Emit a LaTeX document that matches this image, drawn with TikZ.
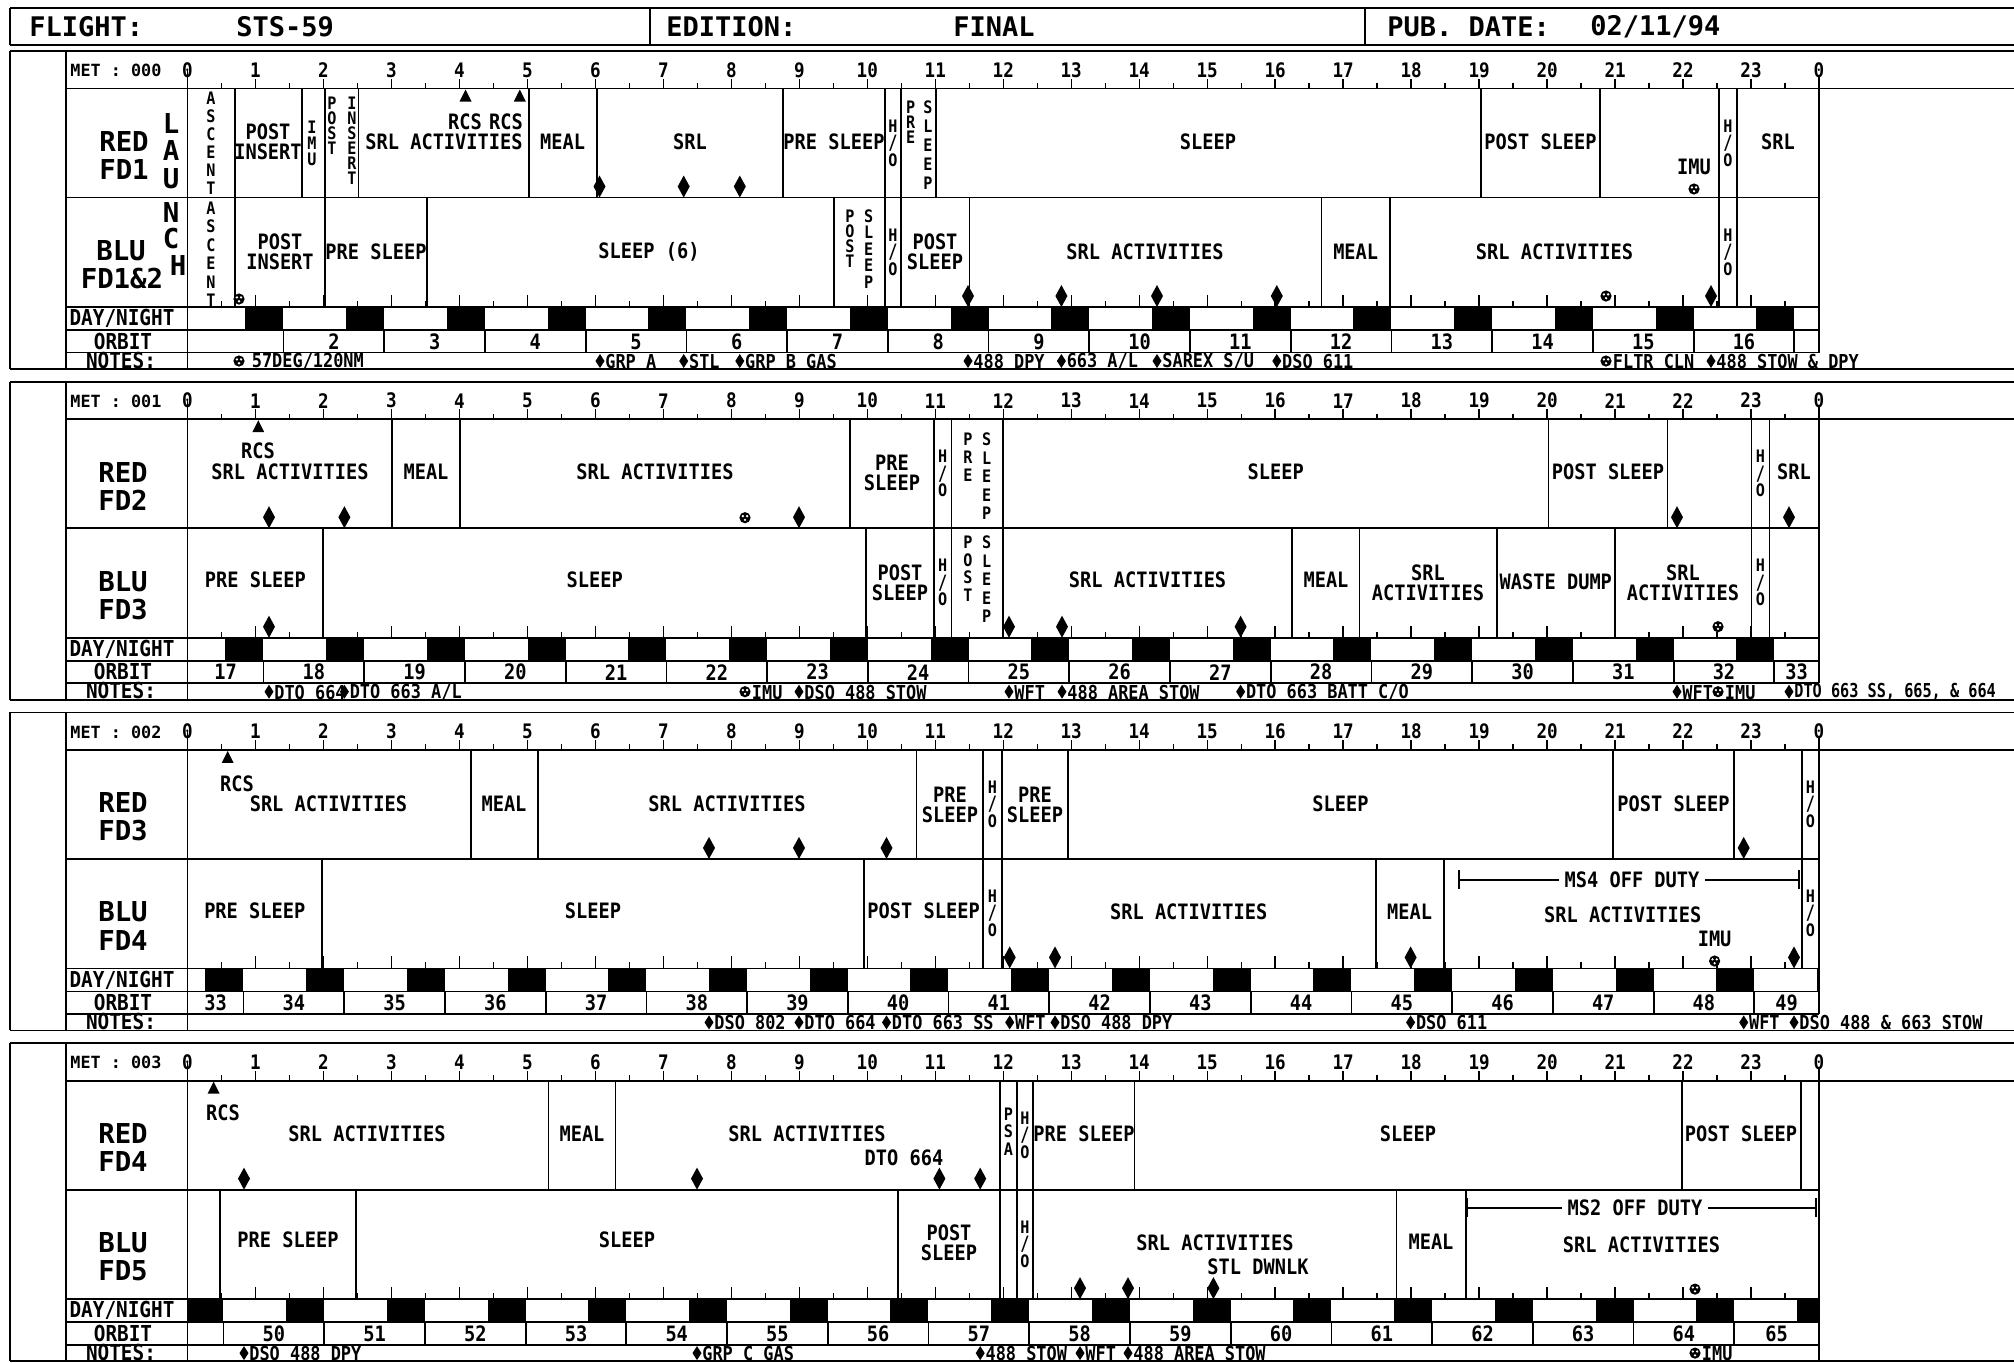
\documentclass[tikz,border=0pt]{standalone}
\usepackage{fontspec}
\usepackage{graphicx}
\newfontfamily\mono[FakeStretch=0.88]{DejaVu Sans Mono}
\newfontfamily\monow{DejaVu Sans Mono}
\tikzset{
  ln/.style={line width=0.9pt},
  tk/.style={line width=0.7pt},
  act/.style={font=\mono\bfseries\fontsize{10.6}{10}\selectfont, inner sep=0pt, align=center},
  vl/.style={font=\mono\bfseries\fontsize{8.6}{9}\selectfont, inner sep=0pt},
  hr/.style={font=\mono\bfseries\fontsize{10}{10}\selectfont, inner sep=0pt},
  big/.style={font=\monow\bfseries\fontsize{13.7}{14}\selectfont, inner sep=0pt},
  rowlbl/.style={font=\mono\bfseries\fontsize{11}{11}\selectfont, inner sep=0pt},
  note/.style={font=\mono\bfseries\fontsize{9.6}{10}\selectfont, inner sep=0pt, anchor=west},
  hdr/.style={font=\monow\bfseries\fontsize{13.5}{14}\selectfont, inner sep=0pt, anchor=west},
}
\newcommand\redv[1]{\foreach \x in {#1}{\draw[ln] (\x,37.5) -- (\x,146.5);}}
\newcommand\bluv[1]{\foreach \x in {#1}{\draw[ln] (\x,146.5) -- (\x,256);}}
\newcommand\dmd[2]{\fill (#1,#2) -- ++(-6,-11) -- ++(6,-11) -- ++(6,11) -- cycle;}
\newcommand\tri[1]{\fill (#1,38.5) -- (#1+6,50.5) -- (#1-6,50.5) -- cycle;}
\newcommand\mrk[2]{\fill (#1,#2) circle (5.6);
  \fill[white] (#1-2.1,#2-1.6) circle (1.3) (#1+2.1,#2-1.6) circle (1.3) (#1,#2+2.2) circle (1.3);}
\newcommand\ndia[2]{\fill (#1,303) -- (#1+4.5,310) -- (#1,317) -- (#1-4.5,310) -- cycle;
  \node[note] at (#1+5,310.5) {#2};}
\newcommand\nmrk[2]{\mrk{#1}{310}\node[note] at (#1+6.5,310.5) {#2};}
\newcommand\vtxt[4]{\foreach \c [count=\i from 0] in {#4}{\node[vl] at (#1,{#2+#3*\i}) {\c};}}
\newcommand\hovr[2]{\node[vl] at (#1,#2-17) {H};
  \node[vl] at (#1,#2) {\scalebox{1}[1.15]{/}};
  \node[vl] at (#1,#2+17) {O};}
\begin{document}
\begin{tikzpicture}[x=0.5pt,y=-0.5pt]
\useasboundingbox (0,0) rectangle (2014,1362);
\fill[white] (0,0) rectangle (2014,1362);
% header
\draw[ln] (10,8) -- (2014,8);
\draw[ln] (10,45) -- (2014,45);
\draw[ln] (10,8) -- (10,45);
\draw[ln] (650,8) -- (650,45);
\draw[ln] (1365,8) -- (1365,45);
\node[hdr] (hf) at (29,27) {FLIGHT:};
\node[hdr] (hs) at (236,27) {STS-59};
\node[hdr] (he) at (666,27) {EDITION:};
\node[hdr] (hfi) at (953,27) {FINAL};
\node[hdr] (hp) at (1387,27) {PUB. DATE:};
\node[hdr] (hd) at (1590,27) {02/11/94};
% common grid of each day
\foreach \d in {0,1,2,3}{
\begin{scope}[shift={(0,{51+330.7*\d})}]
  \draw[ln] (10,0) -- (2014,0);
  \draw[ln] (66,37.5) -- (2014,37.5);
  \draw[ln] (66,146.5) -- (1819,146.5);
  \draw[ln] (66,256) -- (1819,256);
  \draw[ln] (66,279) -- (1819,279);
  \draw[ln] (66,301.5) -- (1819,301.5);
  \draw[ln] (10,318) -- (2014,318);
  \draw[ln] (10,0) -- (10,318);
  \draw[ln] (66,0) -- (66,318);
  \draw[ln] (187.5,17.5) -- (187.5,318);
  \draw[ln] (1819,25) -- (1819,301.5);
  \foreach \k in {1,...,47}{
    \pgfmathsetmacro\xx{187.5+33.99*\k}
    \ifodd\k
      \draw[tk] (\xx,37.5) -- (\xx,32); \draw[tk] (\xx,256) -- (\xx,250);
    \else
      \draw[tk] (\xx,37.5) -- (\xx,27.5); \draw[tk] (\xx,256) -- (\xx,244);
    \fi
  }
  \foreach \h in {0,...,23}{\node[hr] at ({187.5+67.98*\h},19) {\h};}
  \node[hr] at (1819,19) {0};
  \node[font=\monow\bfseries\fontsize{8.4}{9}\selectfont, anchor=west, inner sep=0pt] at (70,19.5) {MET : 00\d};
  \node[rowlbl] at (122,267.5) {DAY/NIGHT};
  \node[rowlbl] at (123,290) {ORBIT};
  \node[rowlbl] at (121,309) {NOTES:};
  \begin{scope}
    \clip (187.5,256) rectangle (1819,279);
    \foreach \n in {0,...,64}{
      \fill ({187.5+67.98*(0.853+1.4816*\n-24*\d)},256) rectangle ++(38,23);
    }
  \end{scope}
  \foreach \n in {0,...,64}{
    \pgfmathsetmacro\obb{1.413+1.4816*\n-24*\d}
    \pgfmathsetmacro\olo{max(\obb-1.4816,0)}
    \pgfmathsetmacro\ohi{min(\obb,24)}
    \pgfmathsetmacro\oww{\ohi-\olo}
    \pgfmathtruncatemacro\onum{\n+1}
    \ifdim\oww pt>0.6pt \ifnum\n>0
      \node[act] at ({187.5+67.98*(\olo+\ohi)/2},290.5) {\onum};
    \fi\fi
    \ifdim\obb pt>0pt \ifdim\obb pt<24pt
      \draw[ln] ({187.5+67.98*\obb},279) -- ({187.5+67.98*\obb},301.5);
    \fi\fi
  }
\end{scope}
}
% ===== DAY 000 =====
\begin{scope}[shift={(0,51)}]
\redv{234.7,301.7,325.3,358.4,528.7,596.7,783,885,901,935.6,1481,1600,1719,1737}
\bluv{234.7,325.3,427.3,833.6,885,901,969.4,1321.4,1390,1719,1737}
\node[big] at (124,90.5) {RED}; \node[big] at (124,118.5) {FD1};
\node[big] at (121,199.5) {BLU}; \node[big] at (122,228) {FD1\&2};
\node[big] at (171,73) {L}; \node[big] at (171,100) {A}; \node[big] at (171,128) {U};
\node[big] at (171,162) {N}; \node[big] at (171,188) {C}; \node[big] at (178,215) {H};
\vtxt{211}{47}{18}{A,S,C,E,N,T}
\node[act] at (268,91) {POST\\INSERT};
\vtxt{312}{76}{16}{I,M,U}
\vtxt{332}{52}{15}{P,O,S,T}
\vtxt{352}{52}{15}{I,N,S,E,R,T}
\tri{465.6}\tri{519.8}
\node[act] at (465,70.5) {RCS}; \node[act] at (506,70.5) {RCS};
\node[act] at (444,91) {SRL ACTIVITIES};
\node[act] at (562.7,91) {MEAL};
\node[act] at (690,91) {SRL};
\dmd{599.5}{146.5}\dmd{683.7}{146.5}\dmd{739.8}{146.5}
\node[act] at (834,91) {PRE SLEEP};
\hovr{893}{92}
\vtxt{910.7}{56}{15}{P,R,E}
\vtxt{928}{56}{19}{S,L,E,E,P}
\node[act] at (1208,91) {SLEEP};
\node[act] at (1540.5,91) {POST SLEEP};
\node[act] at (1694,116) {IMU}; \mrk{1694}{138}
\hovr{1728}{92}
\node[act] at (1778,91) {SRL};
\vtxt{211}{157}{18.5}{A,S,C,E,N,T}
\node[act] at (280,201) {POST\\INSERT};
\mrk{239}{248}
\node[act] at (376,201) {PRE SLEEP};
\node[act] at (649,201) {SLEEP (6)};
\vtxt{850}{165}{15}{P,O,S,T}
\vtxt{868.6}{165}{16.5}{S,L,E,E,P}
\hovr{893}{201}
\node[act] at (935,201) {POST\\SLEEP};
\node[act] at (1145,201) {SRL ACTIVITIES};
\node[act] at (1355.7,201) {MEAL};
\node[act] at (1554.5,201) {SRL ACTIVITIES};
\mrk{1606}{245}
\dmd{968}{256}\dmd{1061.4}{256}\dmd{1157}{256}\dmd{1276.8}{256}\dmd{1711}{256}
\hovr{1728}{201}
\nmrk{239}{\hspace{3pt}57DEG/120NM}
\ndia{600}{GRP A}\ndia{683.7}{STL}\ndia{739.8}{GRP B GAS}
\ndia{968}{488 DPY}\ndia{1061.4}{663 A/L}\ndia{1157}{SAREX S/U}\ndia{1276.8}{DSO 611}
\nmrk{1606}{FLTR CLN}\ndia{1711}{488 STOW \& DPY}
\end{scope}
% ===== DAY 001 =====
\begin{scope}[shift={(0,381.7)}]
\redv{392.2,459.8,850,933.7,951.5,1003,1548.4,1667.4,1751.4,1769.5}
\bluv{323.3,866,933.7,951.5,1003,1292.3,1359.5,1496.6,1615,1751.4,1769.5}
\node[big] at (123,90.5) {RED}; \node[big] at (123,118.5) {FD2};
\node[big] at (123,199.5) {BLU}; \node[big] at (123,228) {FD3};
\tri{258.3}
\node[act] at (258,69) {RCS};
\node[act] at (290,90.5) {SRL ACTIVITIES};
\dmd{269}{146.5}\dmd{344.4}{146.5}
\node[act] at (426,90.5) {MEAL};
\node[act] at (655,90.5) {SRL ACTIVITIES};
\mrk{745}{136}\dmd{799}{146.5}
\node[act] at (892,91.5) {PRE\\SLEEP};
\hovr{942.6}{92}
\vtxt{968}{58}{18}{P,R,E}
\vtxt{986.6}{58}{18.5}{S,L,E,E,P}
\node[act] at (1275.7,90.5) {SLEEP};
\node[act] at (1608,90.5) {POST SLEEP};
\dmd{1677}{146.5}
\hovr{1760.5}{92}
\node[act] at (1794,90.5) {SRL}; \dmd{1789}{146.5}
\node[act] at (255.4,198.5) {PRE SLEEP}; \dmd{269}{256}
\node[act] at (594.7,198.5) {SLEEP};
\node[act] at (900,201) {POST\\SLEEP};
\hovr{942.6}{201}
\vtxt{968}{161}{17.5}{P,O,S,T}
\vtxt{986.6}{161}{18.5}{S,L,E,E,P}
\node[act] at (1147.6,198.5) {SRL ACTIVITIES};
\dmd{1009}{256}\dmd{1062}{256}\dmd{1240.6}{256}
\node[act] at (1326,198.5) {MEAL};
\node[act] at (1428,201.5) {SRL\\ACTIVITIES};
\node[act] at (1555.8,200) {WASTE DUMP};
\node[act] at (1683,201.5) {SRL\\ACTIVITIES};
\mrk{1718}{245}
\hovr{1760.5}{201}
\ndia{269}{DTO 664}\ndia{344.4}{DTO 663 A/L}
\nmrk{745}{IMU}\ndia{799}{DSO 488 STOW}
\ndia{1009}{WFT}\ndia{1062}{488 AREA STOW}\ndia{1240.6}{DTO 663 BATT C/O}
\ndia{1677}{WFT}\nmrk{1718}{IMU}\ndia{1789}{\scalebox{0.9}[1]{DTO 663 SS, 665, \& 664}}
\end{scope}
% ===== DAY 002 =====
\begin{scope}[shift={(0,712.4)}]
\redv{470.7,537.6,916.5,983.3,1001.7,1068,1613,1734,1802}
\bluv{322,864,983.3,1001.7,1375.7,1443.6,1802}
\node[big] at (123,90.5) {RED}; \node[big] at (123,118.5) {FD3};
\node[big] at (123,199.5) {BLU}; \node[big] at (123,228) {FD4};
\tri{227.7}\node[act] at (237,71) {RCS};
\node[act] at (328.4,91) {SRL ACTIVITIES};
\node[act] at (504,91) {MEAL};
\node[act] at (727,91) {SRL ACTIVITIES};
\dmd{709}{146.5}\dmd{799}{146.5}\dmd{886.5}{146.5}
\node[act] at (950,92.5) {PRE\\SLEEP};
\hovr{992.5}{92}
\node[act] at (1035,92.5) {PRE\\SLEEP};
\node[act] at (1340.5,91) {SLEEP};
\node[act] at (1673.5,91) {POST SLEEP};
\dmd{1743.7}{146.5}
\hovr{1810.5}{92}
\node[act] at (254.8,198) {PRE SLEEP};
\node[act] at (593,198) {SLEEP};
\node[act] at (923.6,198) {POST SLEEP};
\hovr{992.5}{201}
\node[act] at (1188.7,199) {SRL ACTIVITIES};
\dmd{1009.7}{256}\dmd{1055}{256}
\node[act] at (1409.6,199) {MEAL};\dmd{1410.6}{256}
\draw[ln] (1459,167.6) -- (1798.6,167.6);
\draw[ln] (1459,158) -- (1459,177); \draw[ln] (1798.6,158) -- (1798.6,177);
\node[act,fill=white,inner xsep=3pt] at (1632,167.6) {MS4 OFF DUTY};
\node[act] at (1622.7,202.6) {SRL ACTIVITIES};
\node[act] at (1714.6,226.6) {IMU}; \mrk{1714.6}{248.6}
\dmd{1794}{256}
\hovr{1810.5}{201}
\ndia{709}{DSO 802}\ndia{799}{DTO 664}\ndia{886.5}{DTO 663 SS}\ndia{1009.7}{WFT}\ndia{1055}{DSO 488 DPY}
\ndia{1410.6}{DSO 611}\ndia{1743.7}{WFT}\ndia{1794}{DSO 488 \& 663 STOW}
\end{scope}
% ===== DAY 003 =====
\begin{scope}[shift={(0,1043.1)}]
\redv{548.5,615.4,1000,1016.7,1033.3,1134.5,1682,1800.6}
\bluv{220,355.9,898,1000,1016.7,1033.3,1396.4,1465.6}
\node[big] at (123,90.5) {RED}; \node[big] at (123,118.5) {FD4};
\node[big] at (123,199.5) {BLU}; \node[big] at (123,228) {FD5};
\tri{213.6}\node[act] at (223,70) {RCS};
\node[act] at (367,90.5) {SRL ACTIVITIES};
\dmd{244}{146.5}
\node[act] at (582,90.5) {MEAL};
\node[act] at (807,90.5) {SRL ACTIVITIES};
\node[act] at (904,115) {DTO 664};
\dmd{697}{146.5}\dmd{939.4}{146.5}\dmd{980.2}{146.5}
\vtxt{1008.3}{71}{17.5}{P,S,A}
\hovr{1025}{92}
\node[act] at (1084,90.5) {PRE SLEEP};
\node[act] at (1408,90.5) {SLEEP};
\node[act] at (1741,90.5) {POST SLEEP};
\node[act] at (288,197) {PRE SLEEP};
\node[act] at (627,197) {SLEEP};
\node[act] at (949,199.6) {POST\\SLEEP};
\hovr{1025}{201}
\node[act] at (1215,200) {SRL ACTIVITIES};
\node[act] at (1258,224) {STL DWNLK};
\dmd{1080}{256}\dmd{1128}{256}\dmd{1213.4}{256}
\node[act] at (1431,199) {MEAL};
\draw[ln] (1467,164.6) -- (1816,164.6);
\draw[ln] (1467,155) -- (1467,174); \draw[ln] (1816,155) -- (1816,174);
\node[act,fill=white,inner xsep=3pt] at (1635,164.6) {MS2 OFF DUTY};
\node[act] at (1641.5,202) {SRL ACTIVITIES};
\mrk{1695}{246}
\ndia{244}{DSO 488 DPY}\ndia{697}{GRP C GAS}\ndia{980.2}{488 STOW}\ndia{1080}{WFT}\ndia{1128}{488 AREA STOW}
\nmrk{1695}{IMU}
\draw[ln] (1819,301.5) -- (1819,318);
\end{scope}
\end{tikzpicture}
\end{document}
